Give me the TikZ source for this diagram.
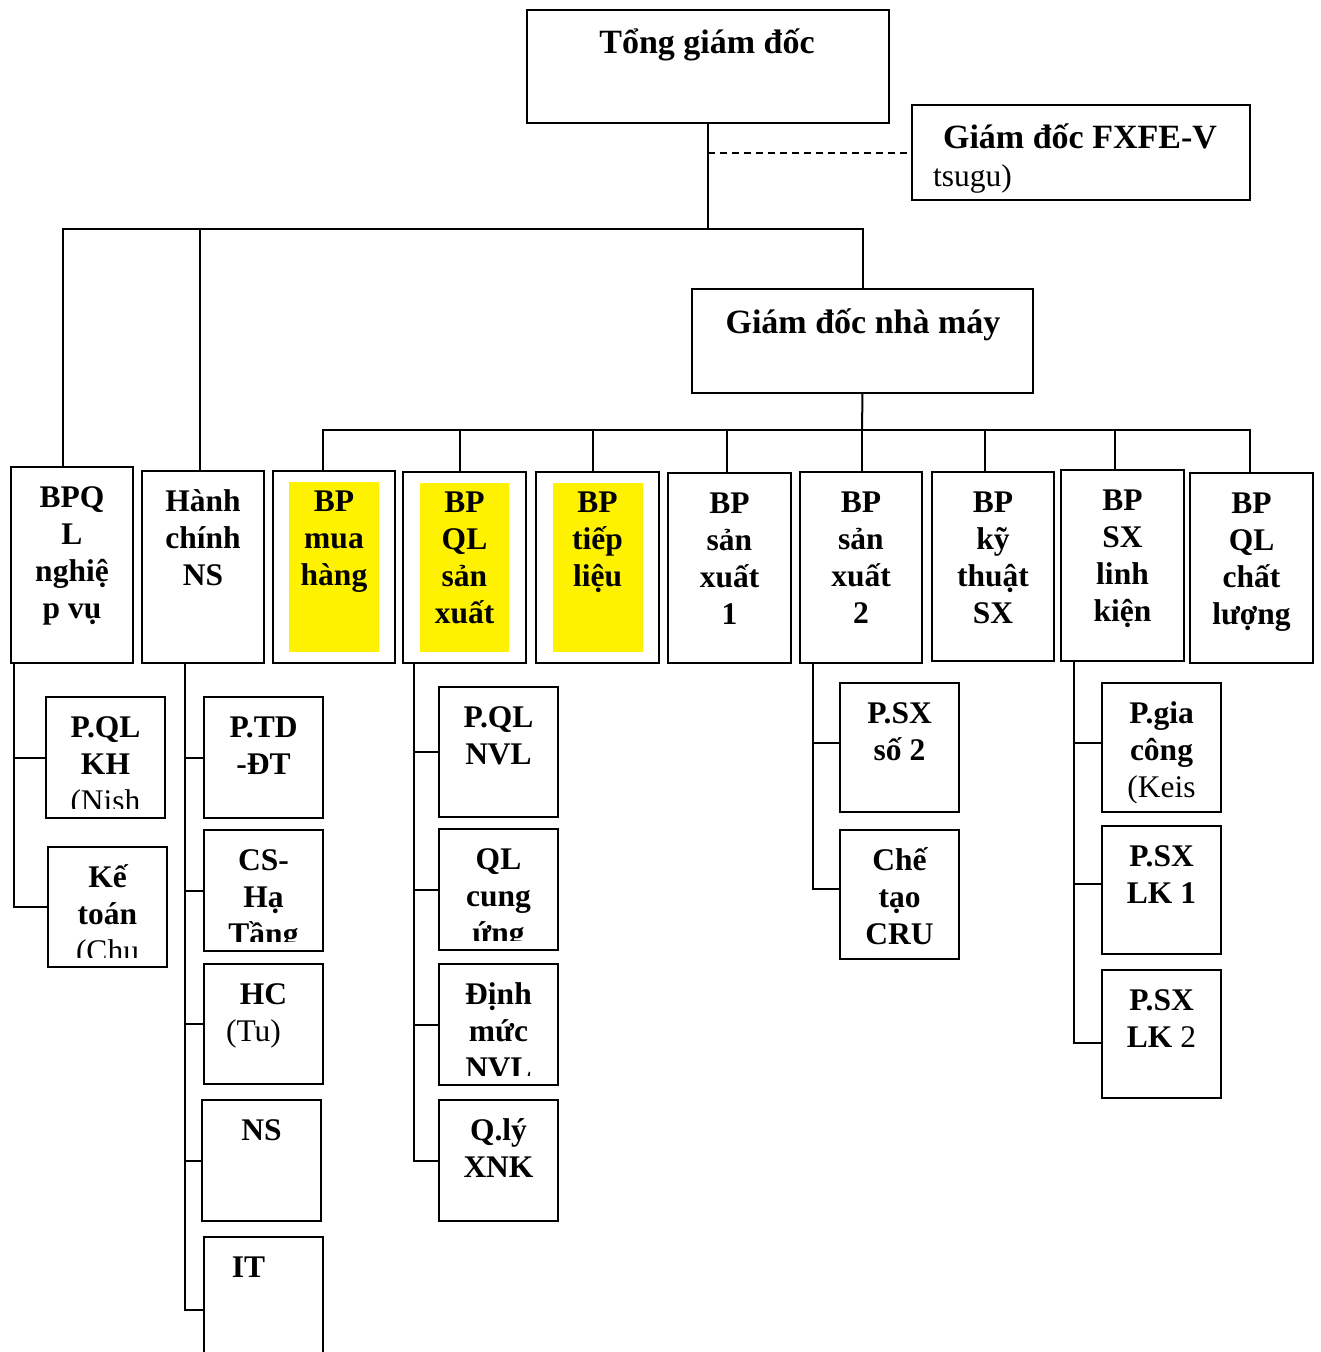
\documentclass[tikz,border=0pt]{standalone}
\usepackage{fontspec}
\setmainfont{Liberation Serif}
\usetikzlibrary{calc}
\tikzset{
  obox/.style={draw, line width=2pt, inner sep=0pt, outer sep=0pt},
  otext/.style={inner sep=0pt, font=\fontsize{31.5}{37}\selectfont\bfseries},
  ttext/.style={inner sep=0pt, font=\fontsize{34}{40}\selectfont\bfseries},
  conn/.style={line width=2pt},
  yel/.style={fill=yellow}
}
% #1 text x-offset, #2 name, #3 x1, #4 y1, #5 x2, #6 y2, #7 text
\newcommand{\orgbox}[7][0]{%
  \node[obox, minimum width={(#5-#3)*1pt}, minimum height={(#6-#4)*1pt}, anchor=north west] (#2) at (#3,#4) {};
  \begin{scope}
    \clip ({#3+4},{#4+4}) rectangle ({#5-4},{#6-10});
    \node[otext, anchor=base] (#2-t) at ({(#3+#5)/2+#1},{#4+40}) {\begin{tabular}[t]{@{}c@{}}#7\end{tabular}};
  \end{scope}}
\begin{document}
\begin{tikzpicture}[x=1pt,y=-1pt]
\useasboundingbox (0,0) rectangle (1320,1352);
\fill[white] (0,0) rectangle (1320,1352);

% top level
\node[obox, minimum width=362pt, minimum height=113pt, anchor=north west] (tgd) at (527,10) {};
\node[ttext, anchor=base] (tgd-t) at (707,53) {Tổng giám đốc};

\node[obox, minimum width=338pt, minimum height=95pt, anchor=north west] (fx) at (912,105) {};
\node[ttext, anchor=base] (fx-t) at (1080,148) {Giám đốc FXFE-V};
\node[inner sep=0pt, anchor=base west, font=\fontsize{31.5}{37}\selectfont] (fx-t2) at (933,186) {tsugu)};

\node[obox, minimum width=341pt, minimum height=104pt, anchor=north west] (gdnm) at (692,289) {};
\node[ttext, anchor=base] (gdnm-t) at (863,333) {Giám đốc nhà máy};

% yellow fills
\fill[yel] (289,482) rectangle (379,652);
\fill[yel] (420,483) rectangle (509,652);
\fill[yel] (553,483) rectangle (643,652);

% second row
\orgbox{bpql}{11}{467}{133}{663}{BPQ\\L\\nghiệ\\p vụ}
\orgbox{hcns}{142}{471}{264}{663}{Hành\\chính\\NS}
\orgbox{mua}{273}{471}{395}{663}{BP\\mua\\hàng}
\orgbox{qlsx}{403}{472}{526}{663}{BP\\QL\\sản\\xuất}
\orgbox{tiep}{536}{472}{659}{663}{BP\\tiếp\\liệu}
\orgbox{sx1}{668}{473}{791}{663}{BP\\sản\\xuất\\1}
\orgbox{sx2}{800}{472}{922}{663}{BP\\sản\\xuất\\2}
\orgbox{kythuat}{932}{472}{1054}{661}{BP\\kỹ\\thuật\\SX}
\orgbox{sxlk}{1061}{470}{1184}{661}{BP\\SX\\linh\\kiện}
\orgbox{qlcl}{1190}{473}{1313}{663}{BP\\QL\\chất\\lượng}

% sub boxes
\orgbox{pqlkh}{46}{697}{165}{818}{P.QL\\KH\\\mdseries(Nish}
\orgbox{ketoan}{48}{847}{167}{967}{Kế\\toán\\\mdseries(Chu}

\orgbox{ptd}{204}{697}{323}{818}{P.TD\\-ĐT}
\orgbox{cs}{204}{830}{323}{951}{CS-\\Hạ\\Tầng}
\orgbox{hcb}{204}{964}{323}{1084}{HC\\\mdseries(Tu)\kern20pt}
\orgbox{nsb}{202}{1100}{321}{1221}{NS}
\orgbox[-15]{itb}{204}{1237}{323}{1390}{IT}

\orgbox{nvl}{439}{687}{558}{817}{P.QL\\NVL}
\orgbox{cungung}{439}{829}{558}{950}{QL\\cung\\ứng}
\orgbox{dinhmuc}{439}{964}{558}{1085}{Định\\mức\\NVL}
\orgbox{xnk}{439}{1100}{558}{1221}{Q.lý\\XNK}

\orgbox{psx2}{840}{683}{959}{812}{P.SX\\số 2}
\orgbox{cru}{840}{830}{959}{959}{Chế\\tạo\\CRU}

\orgbox{giacong}{1102}{683}{1221}{812}{P.gia\\công\\\mdseries(Keis}
\orgbox{lk1}{1102}{826}{1221}{954}{P.SX\\LK 1}
\orgbox{lk2}{1102}{970}{1221}{1098}{P.SX\\LK {\mdseries 2}}

% connectors
\coordinate (hub1) at (708,229);
\coordinate (hub2) at (862,430);
\draw[conn] (tgd.south) -- (hub1);
\draw[conn, dash pattern=on 7pt off 5pt] (tgd.south |- fx.west) -- (fx.west);
\draw[conn] ([xshift=-9pt]bpql.north) |- (hub1) -| (gdnm.north);
\draw[conn] (hub1) -| ([xshift=-3pt]hcns.north);
\draw[conn] (gdnm.south) -- (hub2);
\draw[conn] (hub2) -| ([xshift=-11pt]mua.north);
\draw[conn] (hub2) -| ([xshift=-5pt]qlsx.north);
\draw[conn] (hub2) -| ([xshift=-5pt]tiep.north);
\draw[conn] (hub2) -| ([xshift=-3pt]sx1.north);
\draw[conn] (hub2) -- (sx2.north -| hub2);
\draw[conn] (hub2) -| ([xshift=-8pt]kythuat.north);
\draw[conn] (hub2) -| ([xshift=-8pt]sxlk.north);
\draw[conn] (hub2) -| ([xshift=-2pt]qlcl.north);

\draw[conn] ([xshift=3pt]bpql.south west) |- (pqlkh.west);
\draw[conn] ([xshift=3pt]bpql.south west) |- (ketoan.west);

\draw[conn] ([xshift=43pt]hcns.south west) |- (ptd.west);
\draw[conn] ([xshift=43pt]hcns.south west) |- (cs.west);
\draw[conn] ([xshift=43pt]hcns.south west) |- (hcb.west);
\draw[conn] ([xshift=43pt]hcns.south west) |- (nsb.west);
\draw[conn] ([xshift=43pt]hcns.south west) |- ([yshift=4pt]itb.west);

\draw[conn] ([xshift=11pt]qlsx.south west) |- (nvl.west);
\draw[conn] ([xshift=11pt]qlsx.south west) |- (cungung.west);
\draw[conn] ([xshift=11pt]qlsx.south west) |- (dinhmuc.west);
\draw[conn] ([xshift=11pt]qlsx.south west) |- (xnk.west);

\draw[conn] ([xshift=13pt]sx2.south west) |- ([yshift=5pt]psx2.west);
\draw[conn] ([xshift=13pt]sx2.south west) |- ([yshift=6pt]cru.west);

\draw[conn] ([xshift=13pt]sxlk.south west) |- ([yshift=5pt]giacong.west);
\draw[conn] ([xshift=13pt]sxlk.south west) |- ([yshift=6pt]lk1.west);
\draw[conn] ([xshift=13pt]sxlk.south west) |- ([yshift=-9pt]lk2.west);
\end{tikzpicture}
\end{document}
